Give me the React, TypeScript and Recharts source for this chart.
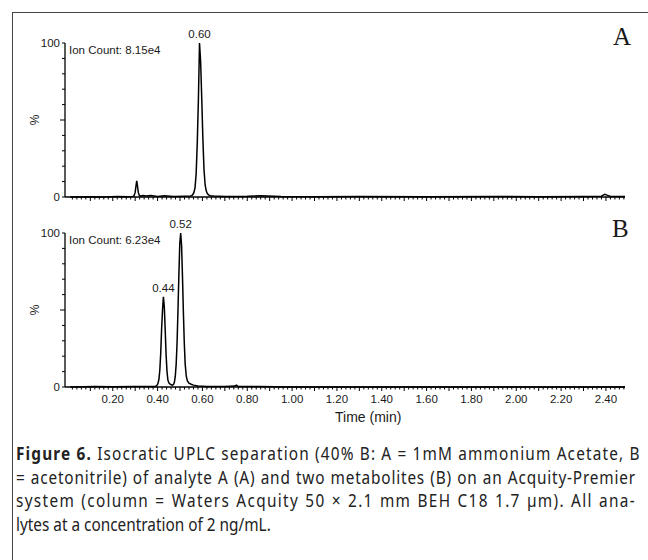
import { LineChart, Line, XAxis, YAxis, ReferenceDot } from 'recharts';

// retention time (min) and relative intensity (%)
const timeA = [
  0.01, 0.1, 0.16, 0.22, 0.27, 0.29, 0.295, 0.3, 0.304, 0.307, 0.31, 0.314, 0.318, 0.325, 0.335,
  0.35, 0.37, 0.4, 0.43, 0.47, 0.52, 0.545, 0.552, 0.557, 0.562, 0.567, 0.572, 0.577, 0.582,
  0.587, 0.592, 0.597, 0.602, 0.607, 0.612, 0.617, 0.622, 0.627, 0.635, 0.65, 0.7, 0.8, 0.86,
  0.95, 1.1, 1.3, 1.6, 1.9, 2.1, 2.3, 2.38, 2.395, 2.405, 2.42, 2.485,
];
const signalA = [
  0, 0.2, 0, 0.3, 0.2, 0.4, 0.8, 3, 7.5, 10.5, 7.5, 3, 1.2, 0.6, 1,
  0.6, 1, 0.4, 0.8, 0.3, 0.5, 0.6, 0.9, 1.5, 3, 6, 15, 35, 63,
  100, 88, 64, 38, 18, 8, 4, 2.2, 1.4, 0.8, 0.6, 0.4, 0.5, 0.8,
  0.3, 0.2, 0.3, 0.2, 0.3, 0.2, 0.3, 0.5, 1.8, 1.2, 0.4, 0.3,
];

const timeB = [
  0.01, 0.12, 0.2, 0.3, 0.36, 0.39, 0.396, 0.401, 0.406, 0.41, 0.414, 0.418, 0.422, 0.426, 0.43,
  0.434, 0.438, 0.442, 0.446, 0.451, 0.456, 0.461, 0.466, 0.471, 0.475, 0.479, 0.483, 0.487,
  0.491, 0.495, 0.499, 0.503, 0.507, 0.511, 0.515, 0.519, 0.523, 0.528, 0.533, 0.54, 0.55,
  0.56, 0.58, 0.62, 0.7, 0.745, 0.752, 0.76, 0.85, 1.0, 1.4, 1.8, 2.2, 2.485,
];
const signalB = [
  0, 0.3, 0.2, 0.4, 0.3, 0.4, 0.8, 2, 5, 11, 22, 38, 50, 58.5, 52,
  37, 21, 10, 4.5, 2.5, 1.8, 1.5, 1.2, 1.6, 3, 7, 15, 29,
  50, 73, 93, 100, 92, 72, 49, 29, 15, 7, 4, 2.5, 1.8,
  1.2, 0.6, 0.3, 0.4, 0.6, 1.2, 0.3, 0.3, 0, 0, 0, 0, 0,
];

const peaksA = [{ t: 0.587, pct: 100, label: '0.60' }];
const peaksB = [
  { t: 0.426, pct: 58.5, label: '0.44' },
  { t: 0.503, pct: 100, label: '0.52' },
];

const xLabels = ['0.20', '0.40', '0.60', '0.80', '1.00', '1.20', '1.40', '1.60', '1.80', '2.00', '2.20', '2.40'];
const yLabels = ['0', '100'];
const yTicks = [0, 10, 20, 30, 40, 50, 60, 70, 80, 90, 100];
const xTicks = Array.from({ length: 124 }, (_, i) => Number(((i + 1) * 0.02).toFixed(2)));

const caption = [
  'Isocratic UPLC separation (40% B: A = 1mM ammonium Acetate, B',
  '= acetonitrile) of analyte A (A) and two metabolites (B) on an Acquity-Premier',
  'system (column = Waters Acquity 50 × 2.1 mm BEH C18 1.7 µm). All ana-',
  'lytes at a concentration of 2 ng/mL.',
];
const captionSpacing = [1.4, 1.0, 1.6, 0];

const toRows = (t: number[], s: number[]) => t.map((time, i) => ({ time, pct: s[i] }));

const sans = 'Arial, "Liberation Sans", sans-serif';
const serif = '"Liberation Serif", "Times New Roman", serif';
const ink = '#1a1a1a';

function YTick({ x, y, payload }: any) {
  const v = payload.value;
  const len = v === 50 ? 5 : 3;
  const txt = yLabels.includes(String(v)) ? String(v) : null;
  return (
    <g>
      <line x1={x - len} x2={x} y1={y} y2={y} stroke="#000" strokeWidth={1} />
      {txt && (
        <text x={x - 5} y={y + 4} textAnchor="end" fontSize={11.5} fontFamily={sans} fill={ink}>
          {txt}
        </text>
      )}
    </g>
  );
}

function makeXTick(showLabels: boolean) {
  return ({ x, y, payload }: any) => {
    const k = Math.round(payload.value * 100);
    const major = k % 10 === 0;
    const lbl = payload.value.toFixed(2);
    return (
      <g>
        <line x1={x} x2={x} y1={y} y2={y + (major ? 4 : 2.5)} stroke="#000" strokeWidth={1} />
        {showLabels && xLabels.includes(lbl) && (
          <text x={x} y={y + 16} textAnchor="middle" fontSize={11.5} fontFamily={sans} fill={ink}>
            {lbl}
          </text>
        )}
      </g>
    );
  };
}

function Panel({ rows, peaks, labels, height }: any) {
  return (
    <LineChart width={648} height={height} data={rows} margin={{ top: 43, right: 23, left: 0, bottom: 0 }}>
      <XAxis
        dataKey="time"
        type="number"
        domain={[-0.013, 2.485]}
        ticks={xTicks}
        interval={0}
        tickSize={0}
        tickMargin={0}
        tickLine={false}
        tick={makeXTick(labels)}
        axisLine={{ stroke: '#000', strokeWidth: 1.5 }}
        height={height - 43 - 154}
        allowDataOverflow
      />
      <YAxis
        type="number"
        domain={[0, 100]}
        ticks={yTicks}
        interval={0}
        width={65}
        tickSize={0}
        tickMargin={0}
        tickLine={false}
        tick={<YTick />}
        axisLine={{ stroke: '#000', strokeWidth: 1.3 }}
      />
      <Line
        dataKey="pct"
        type="linear"
        stroke="#000"
        strokeWidth={1.5}
        dot={false}
        isAnimationActive={false}
      />
      {peaks.map((p: any) => (
        <ReferenceDot
          key={p.label}
          x={p.t}
          y={p.pct}
          r={0}
          fill="none"
          stroke="none"
          label={{ value: p.label, position: 'top', offset: 5, fontSize: 11.5, fontFamily: sans, fill: ink }}
        />
      ))}
    </LineChart>
  );
}

const abs = (left: number, top: number, extra: any = {}) => ({
  position: 'absolute' as const,
  left,
  top,
  ...extra,
});

const capScale = 0.83;

export default function App() {
  return (
    <div style={{ position: 'absolute', left: 0, top: 0, width: 648, height: 560, background: '#fff', overflow: 'hidden' }}>
      <div style={abs(12, 12, { width: 660, height: 560, borderTop: '1.5px solid #444', borderLeft: '1.5px solid #444' })} />
      <div style={abs(0, 0)}>
        <Panel rows={toRows(timeA, signalA)} peaks={peaksA} labels={false} height={207} />
      </div>
      <div style={abs(0, 190)}>
        <Panel rows={toRows(timeB, signalB)} peaks={peaksB} labels={true} height={228} />
      </div>
      <div style={abs(69, 44, { fontFamily: sans, fontSize: 11.5, color: ink, whiteSpace: 'nowrap' })}>Ion Count: 8.15e4</div>
      <div style={abs(69, 234, { fontFamily: sans, fontSize: 11.5, color: ink, whiteSpace: 'nowrap' })}>Ion Count: 6.23e4</div>
      {[120, 310].map((cy) => (
        <div
          key={cy}
          style={abs(25, cy - 8, { width: 20, height: 16, lineHeight: '16px', textAlign: 'center', fontFamily: sans, fontSize: 12, color: ink, transform: 'rotate(-90deg)' })}
        >
          %
        </div>
      ))}
      <div style={abs(613, 22, { fontFamily: serif, fontSize: 25, color: ink, lineHeight: '30px' })}>A</div>
      <div style={abs(612, 214, { fontFamily: serif, fontSize: 25, color: ink, lineHeight: '30px' })}>B</div>
      <div style={abs(335, 408, { fontFamily: sans, fontSize: 14, color: ink, whiteSpace: 'nowrap', lineHeight: '18px' })}>Time (min)</div>
      <div
        style={abs(16, 441, {
          width: 620 / capScale,
          transform: `scaleX(${capScale})`,
          transformOrigin: 'left top',
          fontFamily: '"Noto Sans", "DejaVu Sans", sans-serif',
          fontSize: 18.5,
          lineHeight: '23.5px',
          color: '#222',
        })}
      >
        {caption.map((line, i) => (
          <div
            key={i}
            style={{
              textAlign: i < 3 ? 'justify' : 'left',
              textAlignLast: i < 3 ? 'justify' : 'left',
              whiteSpace: 'nowrap',
              letterSpacing: captionSpacing[i],
            }}
          >
            {i === 0 && <b>Figure 6. </b>}
            {line}
          </div>
        ))}
      </div>
    </div>
  );
}
